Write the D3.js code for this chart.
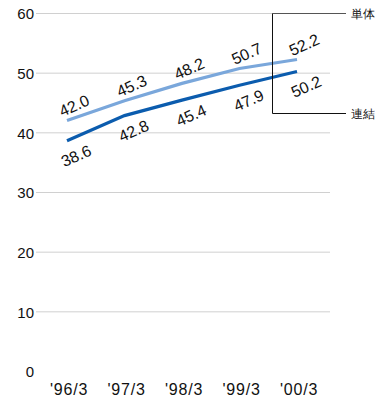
<!DOCTYPE html>
<html><head><meta charset="utf-8">
<script src="https://cdn.jsdelivr.net/npm/d3@7"></script>
<style>body{margin:0;background:#fff}text{font-family:"Liberation Sans",Arial,sans-serif}</style>
</head><body><svg id="c" width="392" height="401"></svg>
<script>
const categories = ["'96/3","'97/3","'98/3","'99/3","'00/3"];
const tanTai = [42.0,45.3,48.2,50.7,52.2];
const renketsu = [38.6,42.8,45.4,47.9,50.2];
const yTicks = [0,10,20,30,40,50,60];
const seriesNames = ["単体","連結"];

const svg = d3.select("#c");
const x = d3.scalePoint().domain(categories).range([67,297]);
const y = d3.scaleLinear().domain([0,60]).range([371,13]);

// grid
svg.append("g").selectAll("line").data(yTicks.filter(d=>d>0)).join("line")
  .attr("x1",36).attr("x2",330).attr("y1",d=>y(d)+0.5).attr("y2",d=>y(d)+0.5)
  .attr("stroke","#d0d0d0").attr("stroke-width",1);
svg.append("g").selectAll("text").data(yTicks).join("text")
  .attr("x",34).attr("y",d=>y(d)+1).attr("dy","0.36em").attr("text-anchor","end")
  .attr("font-size",15).attr("fill","#111").text(d=>d);
svg.append("g").selectAll("text").data(categories).join("text")
  .attr("x",d=>x(d)+2).attr("y",395).attr("text-anchor","middle")
  .attr("font-size",16).attr("letter-spacing","0.8px").attr("fill","#111").text(d=>d);

const line = d3.line().x((d,i)=>x(categories[i])).y(d=>y(d));
svg.append("path").datum(tanTai).attr("d",line).attr("fill","none")
  .attr("stroke","#7aa7db").attr("stroke-width",3.2);
svg.append("path").datum(renketsu).attr("d",line).attr("fill","none")
  .attr("stroke","#0b5cae").attr("stroke-width",3.2);

function labels(data, dx, dy){
  svg.append("g").selectAll("text").data(data).join("text")
    .attr("transform",(d,i)=>`translate(${x(categories[i])+dx},${y(d)+dy}) rotate(-24)`)
    .attr("text-anchor","middle").attr("dy","0.36em")
    .attr("font-size",16).attr("fill","#111").text(d=>d.toFixed(1));
}
labels(tanTai,7,-15);
labels(renketsu,9,15);

// bracket
const bx = 272.5, yTop = y(60)+0.5, yBot = 113.5;
svg.append("line").attr("x1",bx).attr("x2",346).attr("y1",yTop).attr("y2",yTop).attr("stroke","#555").attr("stroke-width",1);
svg.append("line").attr("x1",bx).attr("x2",bx).attr("y1",yTop).attr("y2",yBot).attr("stroke","#111").attr("stroke-width",1);
svg.append("line").attr("x1",bx).attr("x2",346).attr("y1",yBot).attr("y2",yBot).attr("stroke","#111").attr("stroke-width",1);
svg.append("text").attr("x",351).attr("y",yTop).attr("dy","0.36em").attr("font-size",12)
  .attr("font-family","'Noto Sans CJK JP'").attr("fill","#111").text(seriesNames[0]);
svg.append("text").attr("x",351).attr("y",yBot).attr("dy","0.36em").attr("font-size",12)
  .attr("font-family","'Noto Sans CJK JP'").attr("fill","#111").text(seriesNames[1]);
</script></body></html>
